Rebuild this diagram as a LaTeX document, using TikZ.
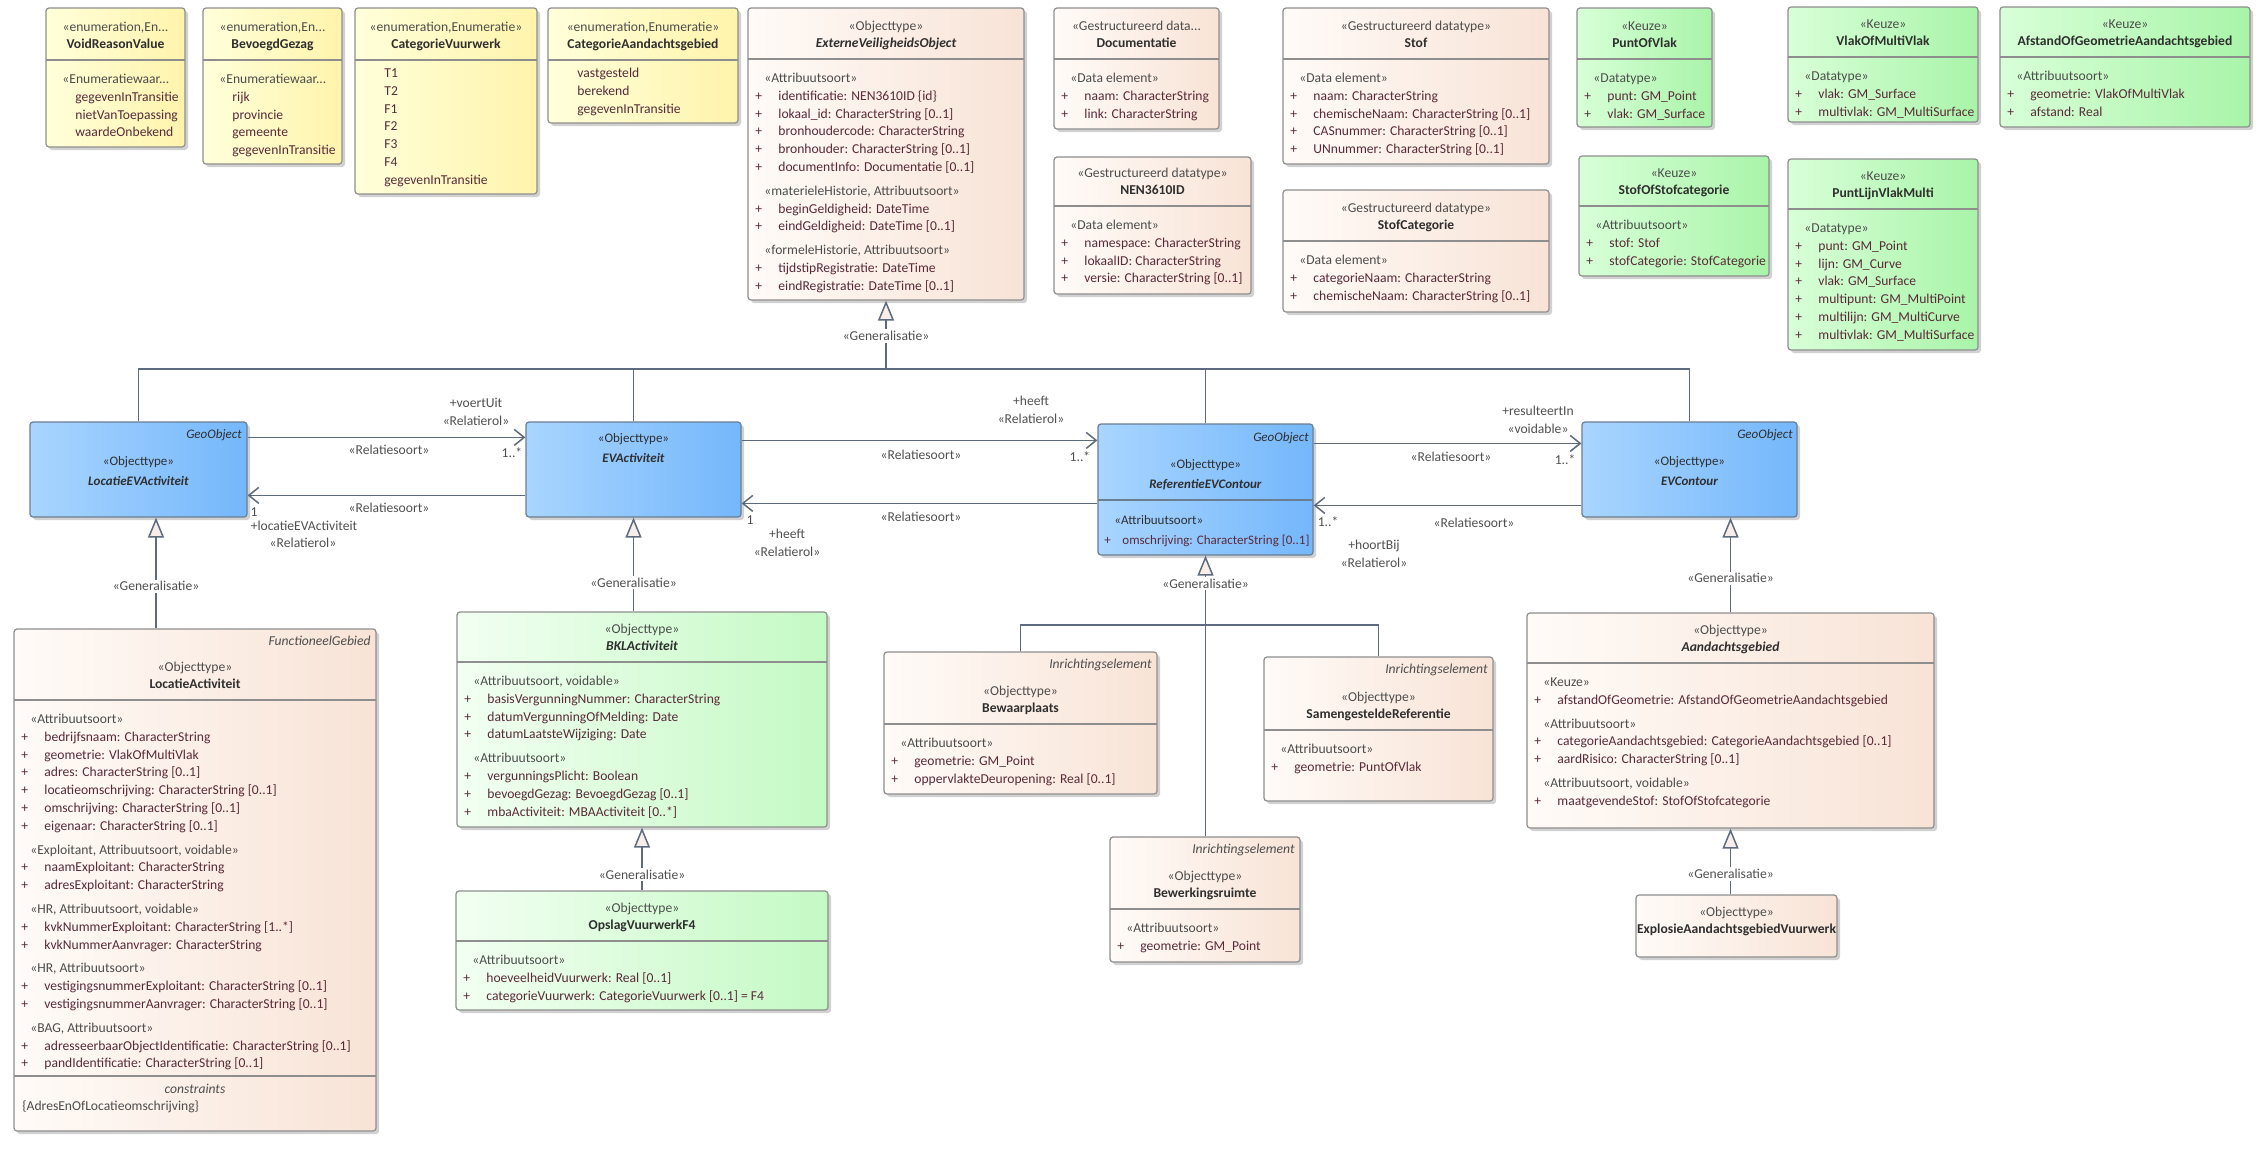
\documentclass[tikz,border=0pt]{standalone}
\usepackage{fontspec}
\setmainfont{Carlito}
\usetikzlibrary{arrows.meta,positioning,fit,shadows}
\definecolor{linecol}{HTML}{5E6A7D}
\definecolor{bordcol}{HTML}{8E8E8E}
\definecolor{blueb}{HTML}{6B7D92}
\definecolor{stcol}{HTML}{4D4D4D}
\definecolor{namecol}{HTML}{2F2F2F}
\definecolor{attcol}{HTML}{5A2A3A}
\definecolor{lblcol}{HTML}{505050}
\definecolor{peachL}{HTML}{FFFBF8}
\definecolor{peachR}{HTML}{F8E3D6}
\definecolor{yelL}{HTML}{FFFFDA}
\definecolor{yelR}{HTML}{FFF4AC}
\definecolor{grnL}{HTML}{F2FFF2}
\definecolor{grnR}{HTML}{C4F9C4}
\definecolor{keuL}{HTML}{D8FFD8}
\definecolor{keuR}{HTML}{A9F4A9}
\definecolor{bluL}{HTML}{A9D5FF}
\definecolor{bluR}{HTML}{74B7FB}
\definecolor{genfill}{HTML}{F7EEE9}

\tikzset{
  box/.style={draw=bordcol, line width=0.6pt, rounded corners=1.5pt, inner sep=0pt,
    drop shadow={shadow xshift=1.5pt, shadow yshift=-1.5pt, fill=black, opacity=0.18}},
  enumbox/.style={box, left color=yelL, right color=yelR},
  peachbox/.style={box, left color=peachL, right color=peachR},
  greenbox/.style={box, left color=grnL, right color=grnR},
  keuzebox/.style={box, left color=keuL, right color=keuR},
  bluebox/.style={box, draw=blueb, left color=bluL, right color=bluR},
  sepline/.style={draw=bordcol, line width=0.6pt},
  headtext/.style={inner sep=0pt, text=stcol},
  bodytext/.style={inner sep=0pt, text=stcol},
  tagtext/.style={inner sep=0pt, text=stcol, font=\fontsize{6.8}{8.9}\selectfont\itshape},
  bluetext/.style={inner sep=0pt, text=namecol, font=\fontsize{6.5}{10}\selectfont},
  bluetag/.style={bluetext, font=\fontsize{6.5}{10}\selectfont\itshape},
  lbl/.style={inner sep=0pt, text=lblcol, anchor=base},
  genlbl/.style={fill=white, inner sep=1pt, text=lblcol},
  conn/.style={draw=linecol, line width=0.75pt},
  gen/.style={conn, -{Triangle[length=10pt, width=8pt, fill=genfill]}},
  assoc/.style={conn, -{Straight Barb[length=5pt, width=8pt]}}
}

\newcommand{\ster}[1]{\hspace*{4.5pt}«#1»}
\newcommand{\attr}[1]{{\color{attcol}\makebox[11.5pt][l]{+}#1}}
\newcommand{\enval}[1]{{\color{attcol}\hspace*{11pt}#1}}
\newcommand{\clsname}[1]{{\color{namecol}\bfseries #1}}
\def\bodyoff{23.5}
% #1 id, #2 style, #3-#6 corners, #7 separator, #8 header, #9 body
\newcommand{\umlclass}[9]{%
  \node[#2, fit={(#3,#4) (#5,#6)}] (#1) {};
  \draw[sepline] (#3,#7) -- (#5,#7);
  \node[headtext, anchor=base] (#1-h) at ({(#3+#5)/2},#7-29) {\begin{tabular}[t]{@{}c@{}}#8\end{tabular}};
  \node[bodytext, anchor=base west] (#1-b) at (#3+7,#7+\bodyoff) {\begin{tabular}[t]{@{}l@{}}#9\end{tabular}};
}

\begin{document}
\begin{tikzpicture}[x=0.5pt, y=-0.5pt, font=\fontsize{6.8}{8.9}\selectfont]
\useasboundingbox (0,0) rectangle (2268,1148);

% enumerations
\umlclass{vrv}{enumbox}{46}{8}{185}{147}{60}{«enumeration,En...\\ \clsname{VoidReasonValue}}
  {\hspace*{4.5pt}«Enumeratiewaar...\\ \enval{gegevenInTransitie}\\ \enval{nietVanToepassing}\\ \enval{waardeOnbekend}}
\umlclass{bg}{enumbox}{203}{8}{342}{164}{60}{«enumeration,En...\\ \clsname{BevoegdGezag}}
  {\hspace*{4.5pt}«Enumeratiewaar...\\ \enval{rijk}\\ \enval{provincie}\\ \enval{gemeente}\\ \enval{gegevenInTransitie}}
\def\bodyoff{17.5}
\umlclass{cv}{enumbox}{355}{8}{537}{194}{60}{«enumeration,Enumeratie»\\ \clsname{CategorieVuurwerk}}
  {\enval{T1}\\ \enval{T2}\\ \enval{F1}\\ \enval{F2}\\ \enval{F3}\\ \enval{F4}\\ \enval{gegevenInTransitie}}
\umlclass{ca}{enumbox}{548}{8}{738}{123}{60}{«enumeration,Enumeratie»\\ \clsname{CategorieAandachtsgebied}}
  {\enval{vastgesteld}\\ \enval{berekend}\\ \enval{gegevenInTransitie}}
\def\bodyoff{23.5}

% datatypes
\umlclass{evo}{peachbox}{748}{8}{1024}{300}{59}{«Objecttype»\\ \clsname{\itshape ExterneVeiligheidsObject}}
  {\ster{Attribuutsoort}\\ \attr{identificatie: NEN3610ID \{id\}}\\ \attr{lokaal\_id: CharacterString [0..1]}\\
   \attr{bronhoudercode: CharacterString}\\ \attr{bronhouder: CharacterString [0..1]}\\ \attr{documentInfo: Documentatie [0..1]}\\[3pt]
   \ster{materieleHistorie, Attribuutsoort}\\ \attr{beginGeldigheid: DateTime}\\ \attr{eindGeldigheid: DateTime [0..1]}\\[3pt]
   \ster{formeleHistorie, Attribuutsoort}\\ \attr{tijdstipRegistratie: DateTime}\\ \attr{eindRegistratie: DateTime [0..1]}}
\umlclass{doc}{peachbox}{1054}{8}{1219}{129}{59}{«Gestructureerd data...\\ \clsname{Documentatie}}
  {\ster{Data element}\\ \attr{naam: CharacterString}\\ \attr{link: CharacterString}}
\umlclass{nen}{peachbox}{1054}{157}{1251}{294}{206}{«Gestructureerd datatype»\\ \clsname{NEN3610ID}}
  {\ster{Data element}\\ \attr{namespace: CharacterString}\\ \attr{lokaalID: CharacterString}\\ \attr{versie: CharacterString [0..1]}}
\umlclass{stof}{peachbox}{1283}{8}{1549}{164}{59}{«Gestructureerd datatype»\\ \clsname{Stof}}
  {\ster{Data element}\\ \attr{naam: CharacterString}\\ \attr{chemischeNaam: CharacterString [0..1]}\\
   \attr{CASnummer: CharacterString [0..1]}\\ \attr{UNnummer: CharacterString [0..1]}}
\umlclass{stofcat}{peachbox}{1283}{190}{1549}{312}{241}{«Gestructureerd datatype»\\ \clsname{StofCategorie}}
  {\ster{Data element}\\ \attr{categorieNaam: CharacterString}\\ \attr{chemischeNaam: CharacterString [0..1]}}

% keuze
\umlclass{pov}{keuzebox}{1577}{8}{1712}{127}{59}{«Keuze»\\ \clsname{PuntOfVlak}}
  {\ster{Datatype}\\ \attr{punt: GM\_Point}\\ \attr{vlak: GM\_Surface}}
\umlclass{vomv}{keuzebox}{1788}{7}{1978}{122}{57}{«Keuze»\\ \clsname{VlakOfMultiVlak}}
  {\ster{Datatype}\\ \attr{vlak: GM\_Surface}\\ \attr{multivlak: GM\_MultiSurface}}
\umlclass{aog}{keuzebox}{2000}{7}{2250}{127}{57}{«Keuze»\\ \clsname{AfstandOfGeometrieAandachtsgebied}}
  {\ster{Attribuutsoort}\\ \attr{geometrie: VlakOfMultiVlak}\\ \attr{afstand: Real}}
\umlclass{sos}{keuzebox}{1579}{156}{1769}{276}{206}{«Keuze»\\ \clsname{StofOfStofcategorie}}
  {\ster{Attribuutsoort}\\ \attr{stof: Stof}\\ \attr{stofCategorie: StofCategorie}}
\umlclass{plvm}{keuzebox}{1788}{159}{1978}{350}{209}{«Keuze»\\ \clsname{PuntLijnVlakMulti}}
  {\ster{Datatype}\\ \attr{punt: GM\_Point}\\ \attr{lijn: GM\_Curve}\\ \attr{vlak: GM\_Surface}\\
   \attr{multipunt: GM\_MultiPoint}\\ \attr{multilijn: GM\_MultiCurve}\\ \attr{multivlak: GM\_MultiSurface}}

% geo objects
\node[bluebox, fit={(30,422) (247,517)}] (locev) {};
\node[bluetag, anchor=base east] (locev-t) at (242,438) {GeoObject};
\node[bluetext, anchor=base] (locev-h) at (138.5,465) {\begin{tabular}[t]{@{}c@{}}«Objecttype»\\ \textbf{\textit{LocatieEVActiviteit}}\end{tabular}};
\node[bluebox, fit={(526,422) (741,517)}] (evact) {};
\node[bluetext, anchor=base] (evact-h) at (633.5,442) {\begin{tabular}[t]{@{}c@{}}«Objecttype»\\ \textbf{\textit{EVActiviteit}}\end{tabular}};
\node[bluebox, fit={(1098,424) (1313,555)}] (refev) {};
\draw[draw=blueb, line width=0.6pt] (1098,500) -- (1313,500);
\node[bluetag, anchor=base east] (refev-t) at (1309,441) {GeoObject};
\node[bluetext, anchor=base] (refev-h) at (1205.5,468) {\begin{tabular}[t]{@{}c@{}}«Objecttype»\\ \textbf{\textit{ReferentieEVContour}}\end{tabular}};
\node[bluetext, anchor=base west] (refev-b) at (1104,524) {\begin{tabular}[t]{@{}l@{}}\hspace*{5pt}«Attribuutsoort»\\
  {\color{attcol}\makebox[9pt][l]{+}omschrijving: CharacterString [0..1]}\end{tabular}};
\node[bluebox, fit={(1582,422) (1797,517)}] (evcont) {};
\node[bluetag, anchor=base east] (evcont-t) at (1793,438) {GeoObject};
\node[bluetext, anchor=base] (evcont-h) at (1689.5,465) {\begin{tabular}[t]{@{}c@{}}«Objecttype»\\ \textbf{\textit{EVContour}}\end{tabular}};

% lower classes
\umlclass{locact}{peachbox}{14}{629}{376}{1131}{700}{«Objecttype»\\ \clsname{LocatieActiviteit}}
  {\ster{Attribuutsoort}\\ \attr{bedrijfsnaam: CharacterString}\\ \attr{geometrie: VlakOfMultiVlak}\\ \attr{adres: CharacterString [0..1]}\\
   \attr{locatieomschrijving: CharacterString [0..1]}\\ \attr{omschrijving: CharacterString [0..1]}\\ \attr{eigenaar: CharacterString [0..1]}\\[3pt]
   \ster{Exploitant, Attribuutsoort, voidable}\\ \attr{naamExploitant: CharacterString}\\ \attr{adresExploitant: CharacterString}\\[3pt]
   \ster{HR, Attribuutsoort, voidable}\\ \attr{kvkNummerExploitant: CharacterString [1..*]}\\ \attr{kvkNummerAanvrager: CharacterString}\\[3pt]
   \ster{HR, Attribuutsoort}\\ \attr{vestigingsnummerExploitant: CharacterString [0..1]}\\ \attr{vestigingsnummerAanvrager: CharacterString [0..1]}\\[3pt]
   \ster{BAG, Attribuutsoort}\\ \attr{adresseerbaarObjectIdentificatie: CharacterString [0..1]}\\ \attr{pandIdentificatie: CharacterString [0..1]}}
\node[tagtext, anchor=base east] (locact-t) at (371,645) {FunctioneelGebied};
\draw[sepline] (14,1076) -- (376,1076);
\node[tagtext, anchor=base] (locact-c) at (195,1093) {constraints};
\node[headtext, anchor=base west] (locact-k) at (22,1110) {\{AdresEnOfLocatieomschrijving\}};

\umlclass{bkl}{greenbox}{457}{612}{827}{827}{662}{«Objecttype»\\ \clsname{\itshape BKLActiviteit}}
  {\ster{Attribuutsoort, voidable}\\ \attr{basisVergunningNummer: CharacterString}\\ \attr{datumVergunningOfMelding: Date}\\
   \attr{datumLaatsteWijziging: Date}\\[3pt] \ster{Attribuutsoort}\\ \attr{vergunningsPlicht: Boolean}\\
   \attr{bevoegdGezag: BevoegdGezag [0..1]}\\ \attr{mbaActiviteit: MBAActiviteit [0..*]}}
\umlclass{opslag}{greenbox}{456}{891}{828}{1010}{941}{«Objecttype»\\ \clsname{OpslagVuurwerkF4}}
  {\ster{Attribuutsoort}\\ \attr{hoeveelheidVuurwerk: Real [0..1]}\\ \attr{categorieVuurwerk: CategorieVuurwerk [0..1] = F4}}

\umlclass{bewaar}{peachbox}{884}{652}{1157}{794}{724}{«Objecttype»\\ \clsname{Bewaarplaats}}
  {\ster{Attribuutsoort}\\ \attr{geometrie: GM\_Point}\\ \attr{oppervlakteDeuropening: Real [0..1]}}
\node[tagtext, anchor=base east] (bewaar-t) at (1152,668) {Inrichtingselement};
\umlclass{samen}{peachbox}{1264}{657}{1493}{801}{730}{«Objecttype»\\ \clsname{SamengesteldeReferentie}}
  {\ster{Attribuutsoort}\\ \attr{geometrie: PuntOfVlak}}
\node[tagtext, anchor=base east] (samen-t) at (1488,673) {Inrichtingselement};
\umlclass{bewerk}{peachbox}{1110}{837}{1300}{962}{909}{«Objecttype»\\ \clsname{Bewerkingsruimte}}
  {\ster{Attribuutsoort}\\ \attr{geometrie: GM\_Point}}
\node[tagtext, anchor=base east] (bewerk-t) at (1295,853) {Inrichtingselement};

\umlclass{aandacht}{peachbox}{1527}{613}{1934}{828}{663}{«Objecttype»\\ \clsname{\itshape Aandachtsgebied}}
  {\ster{Keuze}\\ \attr{afstandOfGeometrie: AfstandOfGeometrieAandachtsgebied}\\[3pt]
   \ster{Attribuutsoort}\\ \attr{categorieAandachtsgebied: CategorieAandachtsgebied [0..1]}\\ \attr{aardRisico: CharacterString [0..1]}\\[3pt]
   \ster{Attribuutsoort, voidable}\\ \attr{maatgevendeStof: StofOfStofcategorie}}
\node[peachbox, fit={(1636,895) (1837,957)}] (explosie) {};
\node[headtext, anchor=base] (explosie-h) at (1736.5,916) {\begin{tabular}[t]{@{}c@{}}«Objecttype»\\ \clsname{ExplosieAandachtsgebiedVuurwerk}\end{tabular}};

% generalisations
\coordinate (topbus) at (0,369);
\coordinate (lowbus) at (0,625);
\coordinate (locx) at (156,0);
\draw[conn] (locev.north) |- (evcont.north |- topbus) -- (evcont.north);
\draw[conn] (evact.north) -- (evact.north |- topbus);
\draw[conn] (refev.north) -- (refev.north |- topbus);
\draw[gen] (evo.south |- topbus) -- node[genlbl, pos=0.48] (g-evo) {«Generalisatie»} (evo.south);
\draw[gen] (locact.north -| locx) -- node[genlbl, pos=0.38] (g-loc) {«Generalisatie»} (locev.south -| locx);
\draw[gen] (bkl.north -| evact.south) -- node[genlbl, pos=0.31] (g-evact) {«Generalisatie»} (evact.south);
\draw[gen] (opslag.north) -- node[genlbl, pos=0.25] (g-bkl) {«Generalisatie»} (opslag.north |- bkl.south);
\draw[conn] (bewaar.north) |- (samen.north |- lowbus) -- (samen.north);
\draw[gen] (bewerk.north -| refev.south) -- node[genlbl, pos=0.9] (g-ref) {«Generalisatie»} (refev.south);
\draw[gen] (aandacht.north) -- node[genlbl, pos=0.36] (g-evc) {«Generalisatie»} (aandacht.north |- evcont.south);
\draw[gen] (explosie.north -| aandacht.south) -- node[genlbl, pos=0.31] (g-aand) {«Generalisatie»} (aandacht.south);

% associations
\draw[assoc] ([yshift=-8pt]locev.north east) -- ([yshift=-8pt]evact.north west);
\draw[assoc] ([yshift=-37pt]evact.north west) -- ([yshift=-37pt]locev.north east);
\draw[assoc] ([yshift=-9.5pt]evact.north east) -- ([yshift=-8.5pt]refev.north west);
\draw[assoc] ([yshift=-40pt]refev.north west) -- ([yshift=-41pt]evact.north east);
\draw[assoc] ([yshift=-10pt]refev.north east) -- ([yshift=-11pt]evcont.north west);
\draw[assoc] ([yshift=-42pt]evcont.north west) -- ([yshift=-41pt]refev.north east);

\foreach \lname/\lpos/\ltxt in {a1/{476,407}/+voertUit, a2/{476,425}/«Relatierol», a3/{389,454}/«Relatiesoort», a4/{512,457}/1..*,
  b1/{389,512}/«Relatiesoort», b2/{254,516}/1, b3/{304,530}/+locatieEVActiviteit, b4/{303,547}/«Relatierol»,
  c1/{1031,405}/+heeft, c2/{1031,423}/«Relatierol», c3/{921,459}/«Relatiesoort», c4/{1080,461}/1..*,
  d1/{921,521}/«Relatiesoort», d2/{750,524}/1, d3/{787,538}/+heeft, d4/{787,556}/«Relatierol»,
  e1/{1538,415}/+resulteertIn, e2/{1538,433}/«voidable», e3/{1451,461}/«Relatiesoort», e4/{1565,464}/1..*,
  f1/{1474,527}/«Relatiesoort», f2/{1328,526}/1..*, f3/{1374,549}/+hoortBij, f4/{1374,567}/«Relatierol»}
  \node[lbl] (\lname) at (\lpos) {\ltxt};
\end{tikzpicture}
\end{document}
